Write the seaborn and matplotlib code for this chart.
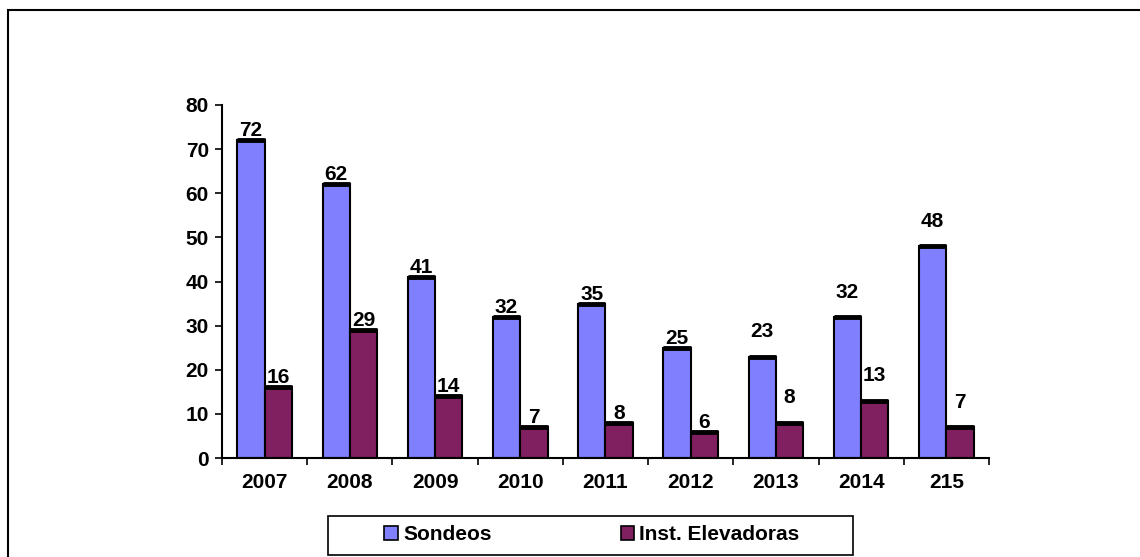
import numpy as np
import pandas as pd
import matplotlib
matplotlib.use("Agg")
import matplotlib.pyplot as plt
import seaborn as sns
from matplotlib.patches import Rectangle

# Data
years = ['2007', '2008', '2009', '2010', '2011', '2012', '2013', '2014', '215']
sondeos = [72, 62, 41, 32, 35, 25, 23, 32, 48]
elevadoras = [16, 29, 14, 7, 8, 6, 8, 13, 7]
series_names = ['Sondeos', 'Inst. Elevadoras']

df = pd.DataFrame({
    'year': years * 2,
    'value': sondeos + elevadoras,
    'serie': [series_names[0]] * len(years) + [series_names[1]] * len(years),
})

sns.set_style('white')
plt.rcParams['font.family'] = ['Liberation Sans', 'DejaVu Sans']
plt.rcParams['font.weight'] = 'bold'
plt.rcParams['text.color'] = 'black'
plt.rcParams['xtick.color'] = 'black'
plt.rcParams['ytick.color'] = 'black'

FS = 15

fig = plt.figure(figsize=(11.4, 5.57), dpi=100)
ax = fig.add_axes([0.1947, 0.1777, 0.6728, 0.6338])

palette = {'Sondeos': '#8080FF', 'Inst. Elevadoras': '#802060'}
sns.barplot(data=df, x='year', y='value', hue='serie', palette=palette,
            order=years, hue_order=series_names, width=0.64,
            edgecolor='black', linewidth=1.5, saturation=1, ax=ax)

# thick black top edge on each bar (Excel look) + value labels
label_pad = [0, 0, 0, 0, 0, 0, 11, 11, 11]
for cont in ax.containers:
    labels = [str(int(v)) for v in cont.datavalues]
    for i, p in enumerate(cont.patches):
        h = p.get_height()
        ax.plot([p.get_x(), p.get_x() + p.get_width()], [h, h],
                color='black', lw=3.5, solid_capstyle='butt', zorder=5)
        ax.annotate(labels[i], (p.get_x() + p.get_width() / 2, h),
                    xytext=(0, 0 + label_pad[i]), textcoords='offset points',
                    ha='center', va='bottom', fontsize=FS, fontweight='bold')

ax.set_ylim(0, 80)
ax.set_xlim(-0.5, len(years) - 0.5)
ax.set_yticks(np.arange(0, 81, 10))
ax.set_xlabel('')
ax.set_ylabel('')
ax.set_xticks(np.arange(-0.5, len(years)), minor=True)
ax.tick_params(axis='x', which='major', length=0, pad=10.5, labelsize=FS)
ax.tick_params(axis='x', which='minor', length=5, width=1.2, direction='out', bottom=True)
ax.tick_params(axis='y', length=5, width=1.2, direction='out', left=True, labelsize=FS, pad=4.5)
for lbl in ax.get_xticklabels() + ax.get_yticklabels():
    lbl.set_fontweight('bold')
for s in ['top', 'right']:
    ax.spines[s].set_visible(False)
for s in ['left', 'bottom']:
    ax.spines[s].set_color('black')
    ax.spines[s].set_linewidth(1.5)

# legend below the plot, with its own wide box
handles, _ = ax.get_legend_handles_labels()
ax.get_legend().remove()
for h in handles:
    h.set_linewidth(1.2)
leg = fig.legend(handles, series_names, loc='center', ncol=2,
                 bbox_to_anchor=(592 / 1140, 1 - 535 / 557), frameon=False,
                 fontsize=FS, handlelength=0.65, handleheight=0.65,
                 columnspacing=6.2, handletextpad=0.25)
for t in leg.get_texts():
    t.set_fontweight('bold')
fig.patches.append(Rectangle((328 / 1140, 1 - 555 / 557), 525 / 1140, 39 / 557,
                             transform=fig.transFigure, fill=False,
                             edgecolor='black', linewidth=1.2))

# outer chart frame, cut off at right and bottom as in the reference
fig.patches.append(Rectangle((8 / 1140, -0.1), 1.2, 0.1 + 1 - 10 / 557,
                             transform=fig.transFigure, fill=False,
                             edgecolor='black', linewidth=1.5))

fig.savefig('out.png', dpi=100)
